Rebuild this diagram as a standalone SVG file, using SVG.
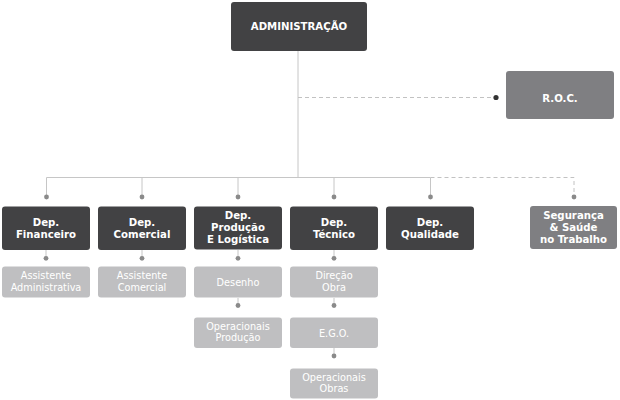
<svg xmlns="http://www.w3.org/2000/svg" width="620" height="400" viewBox="0 0 620 400">
<style>
.dark{fill:#424244}
.mid{fill:#7f7f82}
.light{fill:#bfbfc1}
.bt{font-family:"DejaVu Sans Condensed","DejaVu Sans",Verdana,sans-serif;font-stretch:condensed;font-weight:bold;font-size:11.3px;fill:#fff;text-anchor:middle}
.lt{font-family:"DejaVu Sans Condensed","DejaVu Sans",Verdana,sans-serif;font-stretch:condensed;font-weight:normal;font-size:10.8px;fill:#fff;text-anchor:middle}
.ln{stroke:#c6c6c6;stroke-width:1;fill:none}
.dl{stroke:#c2c2c2;stroke-width:1;fill:none;stroke-dasharray:4 3}
.dot{fill:#8a8a8a}
</style>
<rect width="620" height="400" fill="#fff"/>
<g id="connectors">
<path class="ln" d="M298 51V177.5M46.5 197V177.5H430.5V197M142 177.5V197M238 177.5V197M334 177.5V197"/>
<path class="dl" d="M298 97.5H494M430.5 177.5H574V194"/>
<path class="ln" d="M46 250V258M142 250V258M238 250V258M334 250V258M238 298V305M334 298V305M334 348V356"/>
<circle cx="496" cy="97.5" r="2.6" fill="#333"/>
<circle class="dot" cx="46.5" cy="197" r="2.4"/>
<circle class="dot" cx="142" cy="197" r="2.4"/>
<circle class="dot" cx="238" cy="197" r="2.4"/>
<circle class="dot" cx="334" cy="197" r="2.4"/>
<circle class="dot" cx="430.5" cy="197" r="2.4"/>
<circle class="dot" cx="574" cy="197" r="2.4"/>
<circle class="dot" cx="46" cy="258.3" r="2.4"/>
<circle class="dot" cx="142" cy="258.3" r="2.4"/>
<circle class="dot" cx="238" cy="258.3" r="2.4"/>
<circle class="dot" cx="334" cy="258.3" r="2.4"/>
<circle class="dot" cx="238" cy="305.5" r="2.4"/>
<circle class="dot" cx="334" cy="305.5" r="2.4"/>
<circle class="dot" cx="334" cy="356" r="2.4"/>
</g>
<g id="admin"><rect class="dark" x="231" y="2" width="136" height="49" rx="3"/><text class="bt" x="299" y="29.8">ADMINISTRAÇÃO</text></g>
<g id="roc"><rect class="mid" x="506" y="71" width="108" height="48" rx="3"/><text class="bt" x="560" y="101.6">R.O.C.</text></g>
<g id="financeiro"><rect class="dark" x="2" y="206.5" width="88" height="43.5" rx="3"/><text class="bt" x="46" y="225.8">Dep.</text><text class="bt" x="46" y="237.5">Financeiro</text></g>
<g id="comercial"><rect class="dark" x="98" y="206.5" width="88" height="43.5" rx="3"/><text class="bt" x="142" y="225.8">Dep.</text><text class="bt" x="142" y="237.5">Comercial</text></g>
<g id="producao"><rect class="dark" x="194" y="206.5" width="88" height="43" rx="3"/><text class="bt" x="238" y="219">Dep.</text><text class="bt" x="238" y="231">Produção</text><text class="bt" x="238" y="243">E Logística</text></g>
<g id="tecnico"><rect class="dark" x="290" y="206.5" width="88" height="43.5" rx="3"/><text class="bt" x="334" y="225.8">Dep.</text><text class="bt" x="334" y="237.5">Técnico</text></g>
<g id="qualidade"><rect class="dark" x="386" y="206.5" width="88" height="43.5" rx="3"/><text class="bt" x="430" y="225.8">Dep.</text><text class="bt" x="430" y="237.5">Qualidade</text></g>
<g id="seguranca"><rect class="mid" x="530" y="206" width="87" height="43" rx="3"/><text class="bt" x="573.5" y="218.8">Segurança</text><text class="bt" x="573.5" y="230.8">&amp; Saúde</text><text class="bt" x="573.5" y="242.8">no Trabalho</text></g>
<g id="assist-adm"><rect class="light" x="2" y="266.5" width="88" height="31" rx="3"/><text class="lt" x="46" y="279">Assistente</text><text class="lt" x="46" y="290.5">Administrativa</text></g>
<g id="assist-com"><rect class="light" x="98" y="266.5" width="88" height="31" rx="3"/><text class="lt" x="142" y="279">Assistente</text><text class="lt" x="142" y="290.5">Comercial</text></g>
<g id="desenho"><rect class="light" x="194" y="266.5" width="88" height="31" rx="3"/><text class="lt" x="238" y="285.5">Desenho</text></g>
<g id="op-producao"><rect class="light" x="194" y="317.5" width="88" height="30.5" rx="3"/><text class="lt" x="238" y="329.7">Operacionais</text><text class="lt" x="238" y="341.2">Produção</text></g>
<g id="direcao"><rect class="light" x="290" y="266.5" width="88" height="31" rx="3"/><text class="lt" x="334" y="279">Direção</text><text class="lt" x="334" y="290.5">Obra</text></g>
<g id="ego"><rect class="light" x="290" y="317.5" width="88" height="30.5" rx="3"/><text class="lt" x="334" y="336.5">E.G.O.</text></g>
<g id="op-obras"><rect class="light" x="290" y="368.5" width="88" height="30" rx="3"/><text class="lt" x="334" y="380.7">Operacionais</text><text class="lt" x="334" y="392.2">Obras</text></g>
</svg>
